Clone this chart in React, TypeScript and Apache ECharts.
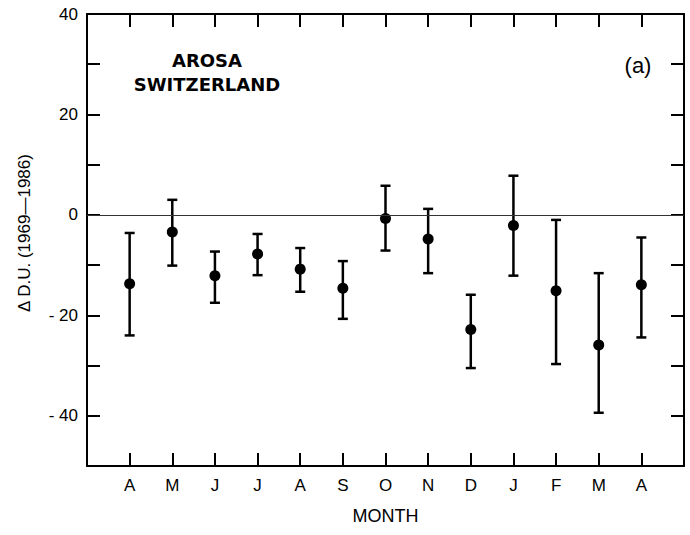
import React, { useEffect, useRef } from "react";
import * as echarts from "echarts";

const months = ["A", "M", "J", "J", "A", "S", "O", "N", "D", "J", "F", "M", "A"];
const meanValues = [-13.7, -3.4, -12.1, -7.8, -10.8, -14.6, -0.7, -4.8, -22.8, -2.1, -15.1, -25.9, -13.9];
const upperValues = [-3.6, 3.0, -7.3, -3.8, -6.6, -9.2, 5.8, 1.2, -15.9, 7.8, -1.0, -11.6, -4.5];
const lowerValues = [-24.0, -10.1, -17.5, -12.0, -15.3, -20.7, -7.1, -11.6, -30.5, -12.1, -29.7, -39.4, -24.4];
const yLabels: Record<number, string> = { 40: "40", 20: "20", 0: "0", "-20": "- 20", "-40": "- 40" } as any;

const FONT = "'Liberation Sans', Arial, sans-serif";

export default function App() {
  const ref = useRef<HTMLDivElement>(null);
  useEffect(() => {
    if (!ref.current) return;
    const chart = echarts.init(ref.current, null, { renderer: "svg" });
    const axisLine = { show: true, onZero: false, lineStyle: { color: "#000", width: 2 } };
    const tick = { show: true, inside: true, length: 13, lineStyle: { color: "#000", width: 2 } };
    const errData = months.map((_, i) => [i + 1, lowerValues[i], upperValues[i]]);
    const ptData = months.map((_, i) => [i + 1, meanValues[i]]);
    chart.setOption({
      animation: false,
      backgroundColor: "#fff",
      grid: { left: 87, right: 6, top: 14, bottom: 69 },
      xAxis: [
        {
          type: "value", min: 0, max: 14, interval: 1, position: "bottom",
          axisLine, axisTick: tick, splitLine: { show: false },
          axisLabel: {
            color: "#000", fontSize: 17, fontFamily: FONT, margin: 11,
            formatter: (v: number) => (v >= 1 && v <= 13 ? months[v - 1] : ""),
          },
          name: "MONTH", nameLocation: "middle", nameGap: 41,
          nameTextStyle: { color: "#000", fontSize: 18, fontFamily: FONT },
        },
        {
          type: "value", min: 0, max: 14, interval: 1, position: "top",
          axisLine, axisTick: tick, splitLine: { show: false }, axisLabel: { show: false },
        },
      ],
      yAxis: [
        {
          type: "value", min: -50, max: 40, interval: 10, position: "left",
          axisLine, axisTick: tick, splitLine: { show: false },
          axisLabel: {
            color: "#000", fontSize: 17, fontFamily: FONT, margin: 9,
            formatter: (v: number) => yLabels[v] ?? "",
          },
        },
        {
          type: "value", min: -50, max: 40, interval: 10, position: "right",
          axisLine, axisTick: tick, splitLine: { show: false }, axisLabel: { show: false },
        },
      ],
      graphic: [
        {
          type: "text", x: 24, y: 233, rotation: Math.PI / 2,
          style: {
            text: "Δ D.U. (1969—1986)", fontSize: 17, fontFamily: FONT, fill: "#000",
            align: "center", verticalAlign: "middle",
          },
        },
        {
          type: "text", x: 207, y: 72,
          style: {
            text: "AROSA\nSWITZERLAND", fontSize: 18, fontWeight: "bold", fontFamily: "'DejaVu Sans', sans-serif",
            fill: "#000", align: "center", verticalAlign: "middle", lineHeight: 24,
          },
        },
        {
          type: "text", x: 638, y: 65,
          style: { text: "(a)", fontSize: 22, fontFamily: FONT, fill: "#000", align: "center", verticalAlign: "middle" },
        },
      ],
      series: [
        {
          type: "custom",
          data: errData,
          renderItem: (params: any, api: any) => {
            const x = api.value(0);
            const lo = api.coord([x, api.value(1)]);
            const hi = api.coord([x, api.value(2)]);
            const w = 5;
            const st = { stroke: "#000", lineWidth: 2.5 };
            return {
              type: "group",
              children: [
                { type: "line", shape: { x1: hi[0], y1: hi[1], x2: lo[0], y2: lo[1] }, style: st },
                { type: "line", shape: { x1: hi[0] - w, y1: hi[1], x2: hi[0] + w, y2: hi[1] }, style: st },
                { type: "line", shape: { x1: lo[0] - w, y1: lo[1], x2: lo[0] + w, y2: lo[1] }, style: st },
              ],
            };
          },
          z: 3,
        },
        {
          type: "scatter",
          data: ptData,
          symbol: "circle",
          symbolSize: 11,
          itemStyle: { color: "#000", opacity: 1 },
          z: 4,
          markLine: {
            silent: true, symbol: "none", label: { show: false },
            lineStyle: { color: "#333", width: 1.2, type: "solid", opacity: 1 },
            data: [{ yAxis: 0 }],
          },
        },
      ],
    });
    return () => chart.dispose();
  }, []);
  return <div ref={ref} style={{ width: 690, height: 535, position: "absolute", left: 0, top: 0 }} />;
}
